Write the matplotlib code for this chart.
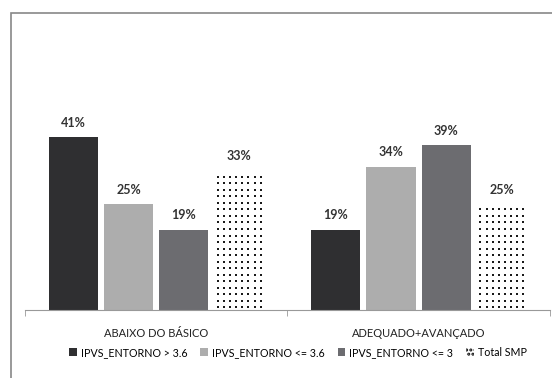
import numpy as np
import matplotlib
matplotlib.use("Agg")
import matplotlib.pyplot as plt
from matplotlib.patches import Rectangle, Patch

plt.rcParams['font.family'] = ['Lato', 'DejaVu Sans']
plt.rcParams['hatch.linewidth'] = 1.5

# data
categories = ['ABAIXO DO BÁSICO', 'ADEQUADO+AVANÇADO']
series = ['IPVS_ENTORNO > 3.6', 'IPVS_ENTORNO <= 3.6', 'IPVS_ENTORNO <= 3', 'Total SMP']
values = [
    [41, 19],
    [25, 34],
    [19, 39],
    [33, 25],
]
colors = ['#2f2f31', '#adadad', '#6c6c70', 'white']
dotted = [False, False, False, True]

fig = plt.figure(figsize=(5.52, 3.78), dpi=100)
ax = fig.add_axes([0.0453, 0.180, 0.951, 0.558])

x = np.arange(len(categories)) + 0.5
step = 0.211
width = 0.187
handles = []
for i, (name, vals) in enumerate(zip(series, values)):
    pos = x + (i - 1.5) * step
    bars = ax.bar(pos, vals, width, color=colors[i], linewidth=0)
    if dotted[i]:
        # dot grid texture filling each bar
        for b, v in zip(bars, vals):
            xs = np.linspace(b.get_x() + 0.012, b.get_x() + b.get_width() - 0.012, 8)
            ys = np.arange(0.6, v, 1.55)
            gx, gy = np.meshgrid(xs, ys)
            ax.scatter(gx.ravel(), gy.ravel(), s=3.2, marker='s', color='#1a1a1a',
                       linewidths=0)
        handles.append(Patch(facecolor='white', edgecolor='black', hatch='....',
                             linewidth=0, label=name))
    else:
        handles.append(Patch(facecolor=colors[i], label=name))
    for b, v in zip(bars, vals):
        ax.text(b.get_x() + b.get_width() / 2, v + 2.0, f'{v}%',
                ha='center', va='bottom', fontsize=9, color='#333333',
                fontweight='bold')

ax.set_xlim(0, 2)
ax.set_ylim(0, 50)
ax.set_yticks([])
ax.set_xticks(x)
ax.set_xticklabels(categories, fontsize=8, color='#222222')
ax.tick_params(axis='x', which='major', length=0, pad=13)
ax.set_xticks([0, 1, 2], minor=True)
ax.tick_params(axis='x', which='minor', length=4, color='#999999')
for s in ['top', 'right', 'left']:
    ax.spines[s].set_visible(False)
ax.spines['bottom'].set_color('#999999')

ax.legend(handles=handles, loc='center', bbox_to_anchor=(0.52, -0.2), ncol=4,
          frameon=False, fontsize=7.7, handlelength=0.7, handleheight=0.7,
          handletextpad=0.4, columnspacing=1.2)

# outer frame
fig.patches.append(Rectangle((11 / 552, -0.1), 1.0, 1.0 - 13 / 378 + 0.1,
                             transform=fig.transFigure, fill=False,
                             edgecolor='#888888', linewidth=1.2))

fig.savefig('out.png', dpi=100, facecolor='white')
